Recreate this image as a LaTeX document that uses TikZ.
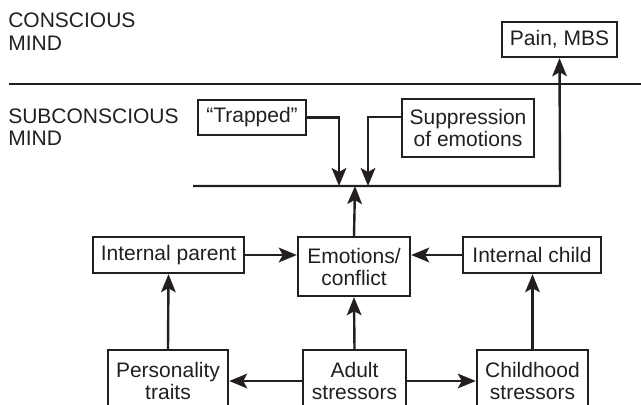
\documentclass[tikz,border=0pt]{standalone}
\usepackage{fontspec}
\setmainfont{Liberation Sans}
\usetikzlibrary{arrows.meta}
\definecolor{ink}{HTML}{231F20}
\begin{document}
\begin{tikzpicture}[x=0.75pt,y=-0.75pt,
  font=\fontsize{15.75}{16.5}\selectfont,
  every node/.style={text=ink},
  box/.style={draw=ink, line width=1.8pt, inner sep=0pt, align=center},
  conn/.style={draw=ink, line width=1.8pt, -{Stealth[length=13.5pt,width=11pt,inset=3pt]}},
  lbl/.style={anchor=base west, inner sep=0pt}]
\useasboundingbox (0,0) rectangle (641,404);
\clip (0,0) rectangle (641,404);
% region labels
\node[lbl] (c1) at (8,27) {CONSCIOUS};
\node[lbl] (c2) at (8,50) {MIND};
\node[lbl] (s1) at (8,123) {SUBCONSCIOUS};
\node[lbl] (s2) at (8,145) {MIND};
\coordinate (divL) at (9,84);
\coordinate (divR) at (641,84);
\draw[ink, line width=1pt] (divL) -- (divR);
% boxes
\node[box, minimum width=115*0.75pt, minimum height=35*0.75pt] (pain) at (559.5,39.5) {Pain, MBS};
\node[box, minimum width=108*0.75pt, minimum height=35*0.75pt] (trap) at (252,117.5) {``Trapped''};
\node[box, minimum width=132*0.75pt, minimum height=58*0.75pt] (supp) at (468,128) {Suppression\\of emotions};
\node[box, minimum width=112*0.75pt, minimum height=59*0.75pt] (emo) at (354,266.5) {Emotions/\\conflict};
\node[box, minimum width=151*0.75pt, minimum height=36*0.75pt] (par) at (168.5,255) {Internal parent};
\node[box, minimum width=138*0.75pt, minimum height=36*0.75pt] (chi) at (532,255) {Internal child};
\node[box, minimum width=120*0.75pt, minimum height=62*0.75pt] (pers) at (168,381) {Personality\\traits};
\node[box, minimum width=103*0.75pt, minimum height=62*0.75pt] (adu) at (354.5,381) {Adult\\stressors};
\node[box, minimum width=111*0.75pt, minimum height=62*0.75pt] (chs) at (532.5,381) {Childhood\\stressors};
% bus
\coordinate (busL) at (193,186);
\coordinate (busR) at (560,186);
\coordinate (tb) at (339,186);
\coordinate (sb) at (368,186);
\coordinate (eb) at (355,186);
\draw[conn] (busL) -- (busR) -- (pain.south);
\draw[conn] (trap.east) -| (tb);
\draw[conn] ([yshift=8.25pt]supp.west) -| (sb);
\draw[conn] (emo.north) -- (eb);
\draw[conn] (par.east) -- (emo.west |- par.east);
\draw[conn] (chi.west) -- (emo.east |- chi.west);
\draw[conn] (pers.north) -- (par.south);
\draw[conn] (adu.north) -- (emo.south);
\draw[conn] (chs.north) -- (chs.north |- chi.south);
\draw[conn] (adu.west) -- (pers.east);
\draw[conn] (adu.east) -- (chs.west);
\end{tikzpicture}
\end{document}
